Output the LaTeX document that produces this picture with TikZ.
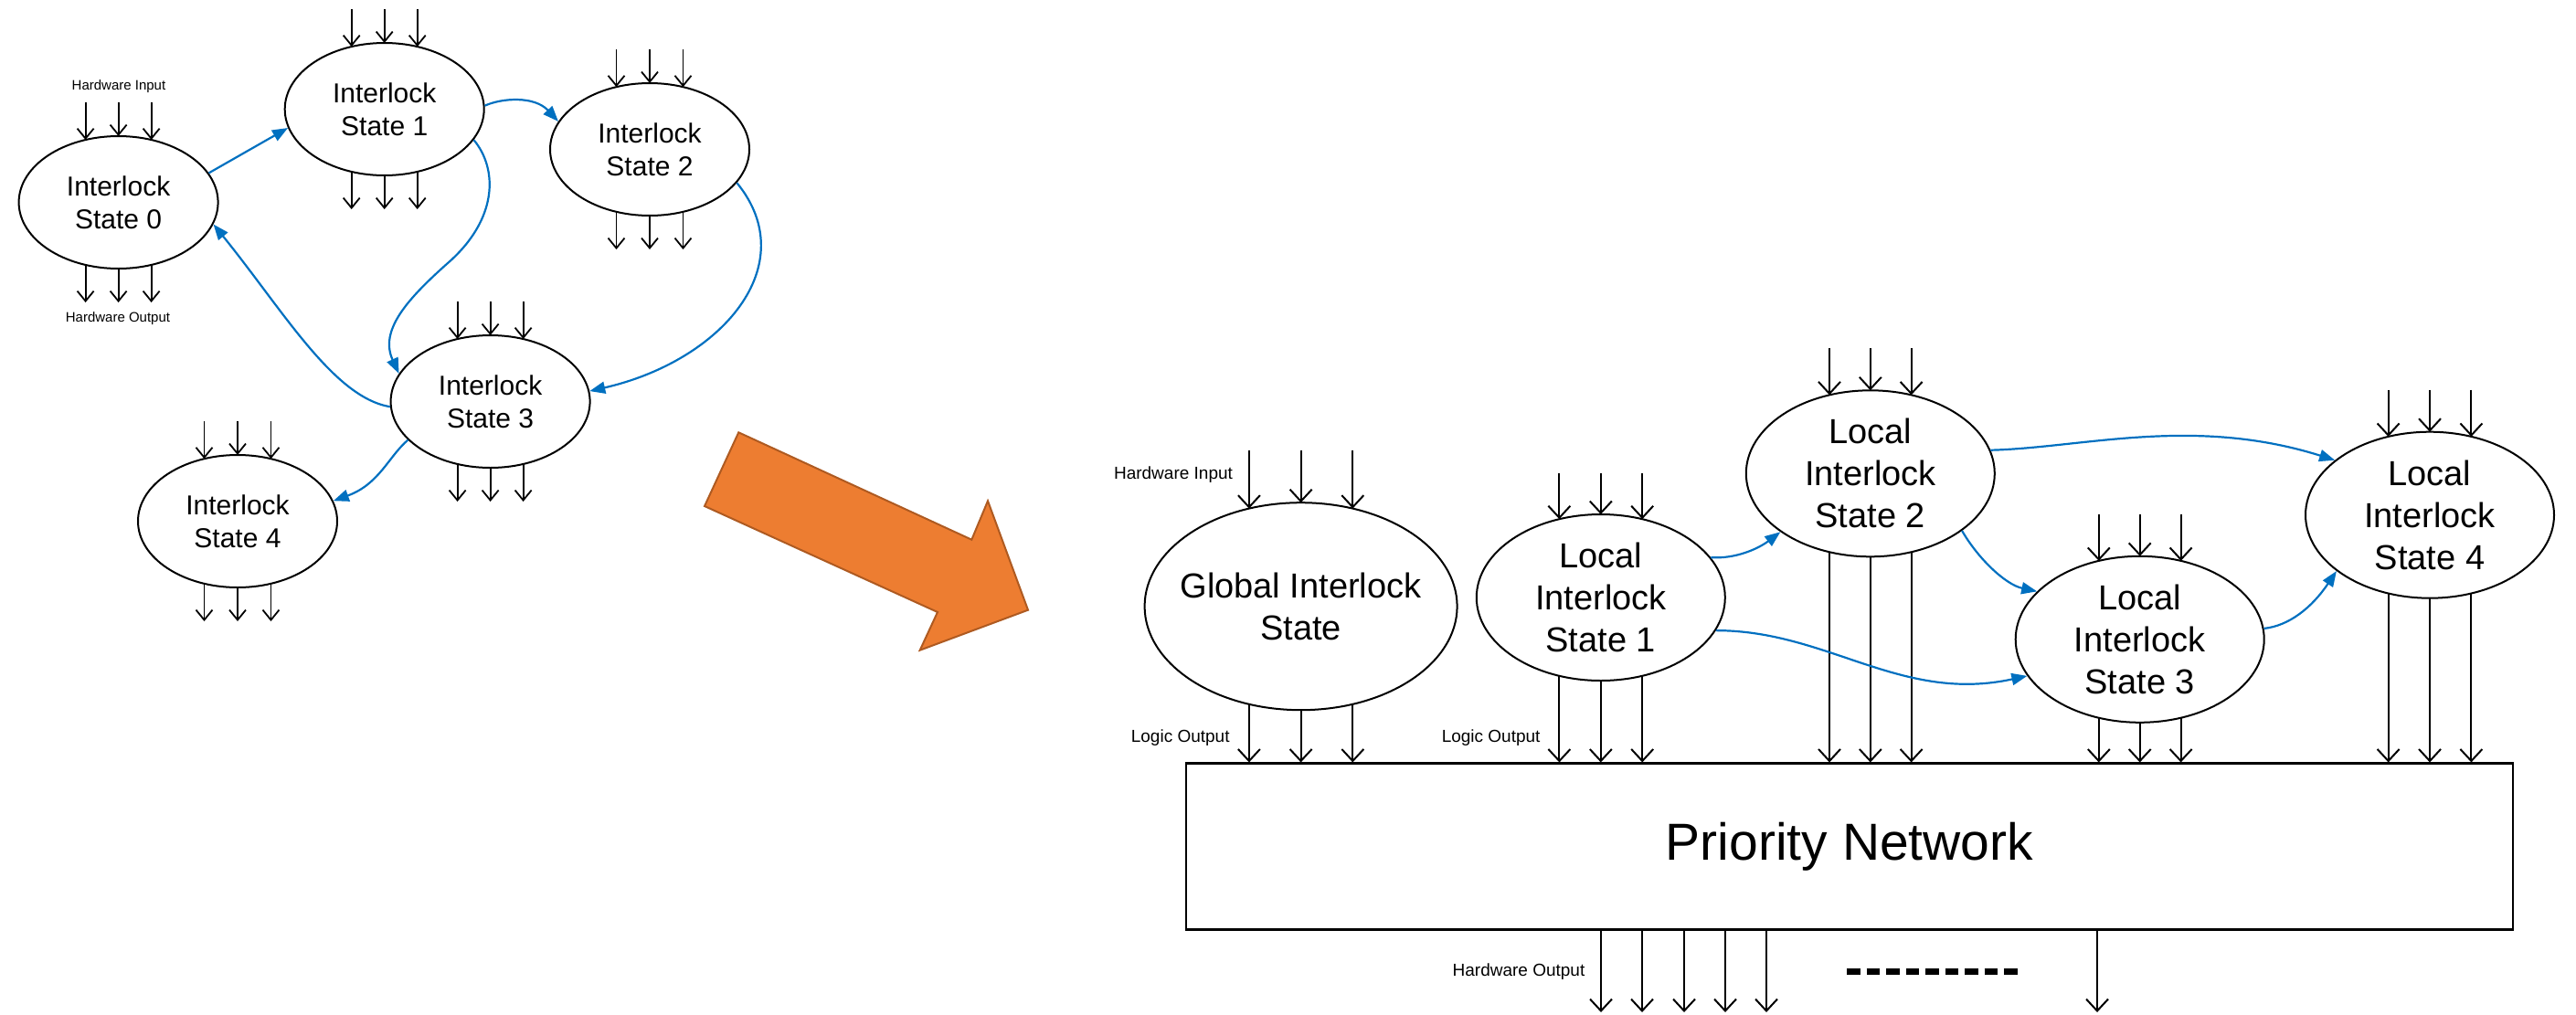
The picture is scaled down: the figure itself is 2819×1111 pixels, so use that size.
\documentclass[tikz,border=0pt]{standalone}
\usepackage{fontspec}
\setmainfont{Liberation Sans}
\usetikzlibrary{shapes.geometric,arrows.meta,calc}
\definecolor{linkblue}{HTML}{0070C0}
\definecolor{orfill}{HTML}{ED7D31}
\definecolor{ordraw}{HTML}{AE5A21}
\newcommand{\iofan}[6]{% #1 node, #2 rx, #3 ry, #4 dx, #5 inlen, #6 style
  \foreach \k in {-1,0,1}{
    \pgfmathsetmacro{\hh}{#3*sqrt(1-(\k*#4/#2)^2)}
    \coordinate (#1-t\k) at ($(#1.center)+({\k*#4},{-\hh})$);
    \coordinate (#1-b\k) at ($(#1.center)+({\k*#4},{\hh})$);
    \coordinate (#1-i\k) at ($(#1.center)+({\k*#4},{-#3-#5})$);
    \draw[#6] (#1-i\k) -- (#1-t\k);
  }}
\newcommand{\outfan}[4]{% #1 node, #2 ry, #3 dx, #4 len
  \foreach \k in {-1,0,1}{
    \coordinate (#1-o\k) at ($(#1.center)+({\k*#3},{#2+#4})$);
    \draw[sio] (#1-b\k) -- (#1-o\k);
  }}
\newcommand{\pnfan}[1]{%
  \foreach \k in {-1,0,1}{
    \draw[lio] (#1-b\k) -- (#1-b\k |- PN.north);
  }}
\begin{document}
\begin{tikzpicture}[x=1pt,y=-1pt,
  st/.style={ellipse, draw, line width=2pt, inner sep=0pt},
  sstate/.style={st, minimum width=218pt, minimum height=145pt},
  lstate/.style={st, minimum width=272pt, minimum height=182pt},
  gstate/.style={st, minimum width=342pt, minimum height=227pt},
  stxt/.style={align=center, inner sep=0pt, font=\fontsize{30}{36}\selectfont},
  ltxt/.style={align=center, inner sep=0pt, font=\fontsize{38}{46}\selectfont},
  sio/.style={line width=1.8pt, -{Straight Barb[length=11pt,width=18pt,line width=1.8pt]}},
  lio/.style={line width=2pt, -{Straight Barb[length=13pt,width=24pt,line width=2pt]}},
  link/.style={draw=linkblue, line width=2.2pt, -{Triangle[length=17pt,width=13pt]}},
  smalllbl/.style={font=\fontsize{15}{18}\selectfont, inner sep=0pt},
  biglbl/.style={font=\fontsize{19}{23}\selectfont, inner sep=0pt},
]
\useasboundingbox (0,0) rectangle (2819,1111);

% ---------- left diagram ----------
\node[sstate] (S0) at (129.6,221.5) {};
\node[sstate] (S1) at (420.7,119.5) {};
\node[sstate] (S2) at (711,163.5) {};
\node[sstate] (S3) at (536.6,439.5) {};
\node[sstate] (S4) at (260,570.5) {};
\node[stxt] (S0t) at (S0) {Interlock\\State 0};
\node[stxt] (S1t) at (S1) {Interlock\\State 1};
\node[stxt] (S2t) at (S2) {Interlock\\State 2};
\node[stxt] (S3t) at (S3) {Interlock\\State 3};
\node[stxt] (S4t) at (S4) {Interlock\\State 4};

\iofan{S0}{109}{72.5}{36}{37}{sio}
\iofan{S1}{109}{72.5}{36}{37}{sio}
\iofan{S2}{109}{72.5}{36.5}{37}{sio}
\iofan{S3}{109}{72.5}{36}{37}{sio}
\iofan{S4}{109}{72.5}{36.5}{37}{sio}
\outfan{S0}{72.5}{36}{37}
\outfan{S1}{72.5}{36}{37}
\outfan{S2}{72.5}{36.5}{37}
\outfan{S3}{72.5}{36}{37}
\outfan{S4}{72.5}{36.5}{37}

\node[smalllbl] (hwinL) at (130,95) {Hardware Input};
\node[smalllbl] (hwoutL) at (129,349) {Hardware Output};

\draw[link] (S0.18) -- (S1.191);
\draw[link] (S1.2) .. controls (550,107) and (585,105) .. (S2.163);
\draw[link] (S1.341) .. controls (545,185) and (545,240) .. (490,288) .. controls (445,328) and (415,362) .. (S3.163);
\draw[link] (S2.339) .. controls (880,290) and (790,395) .. (S3.6);
\draw[link] (S3.183) .. controls (365,435) and (310,340) .. (S0.347);
\draw[link] (S3.205) .. controls (425,500) and (415,530) .. (S4.12);

% ---------- orange arrow ----------
\draw[fill=orfill, draw=ordraw, line width=2pt, line join=miter]
  (808.3,473.3) -- (1063.3,590.7) -- (1081,548.3) -- (1125,667.7)
  -- (1006.7,711.7) -- (1026,670) -- (771,554) -- cycle;

% ---------- right diagram ----------
\node[draw, line width=2.5pt, minimum width=1452pt, minimum height=181.6pt,
      inner sep=0pt, font=\fontsize{57}{68}\selectfont] (PN) at (2024,926.5) {Priority Network};

\node[gstate] (G)  at (1423.6,663.7) {};
\node[lstate] (L1) at (1751.8,654) {};
\node[lstate] (L2) at (2046.8,518.3) {};
\node[lstate] (L3) at (2341.7,699.8) {};
\node[lstate] (L4) at (2659,563.7) {};
\node[ltxt] (Gt)  at (G)  {Global Interlock\\State};
\node[ltxt] (L1t) at (L1) {Local\\Interlock\\State 1};
\node[ltxt] (L2t) at (L2) {Local\\Interlock\\State 2};
\node[ltxt] (L3t) at (L3) {Local\\Interlock\\State 3};
\node[ltxt] (L4t) at (L4) {Local\\Interlock\\State 4};

\iofan{G}{171}{113.5}{56.7}{57}{lio}
\iofan{L1}{136}{91}{45.4}{45}{lio}
\iofan{L2}{136}{91}{44.8}{46}{lio}
\iofan{L3}{136}{91}{44.9}{46}{lio}
\iofan{L4}{136}{91}{45.4}{46}{lio}
\pnfan{G}
\pnfan{L1}
\pnfan{L2}
\pnfan{L3}
\pnfan{L4}

\node[biglbl] (hwinR) at (1284,520) {Hardware Input};
\node[biglbl] (logG) at (1291.7,808) {Logic Output};
\node[biglbl] (logL) at (1631.6,808) {Logic Output};
\node[biglbl] (hwoutR) at (1662,1063.3) {Hardware Output};

\draw[link] (L1.20) .. controls (1900,612) and (1925,600) .. (L2.213);
\draw[link] (L1.344) .. controls (2000,690) and (2080,770) .. (L3.198);
\draw[link] (L2.11) .. controls (2280,490) and (2400,455) .. (L4.150);
\draw[link] (L2.328) .. controls (2165,612) and (2195,640) .. (L3.155);
\draw[link] (L3.5) .. controls (2505,685) and (2530,665) .. (L4.211);

% hardware outputs below the network
\foreach \x/\n in {1752/1,1797/2,1843/3,1888/4,1933/5,2295/6}{
  \coordinate (ho\n) at (\x,1108);
  \draw[lio] (ho\n |- PN.south) -- (ho\n);
}
\coordinate (dotsA) at (2021,1063);
\coordinate (dotsB) at (2208,1063);
\draw[line width=7pt, dash pattern=on 14.7pt off 6.8pt] (dotsA) -- (dotsB);
\end{tikzpicture}
\end{document}
